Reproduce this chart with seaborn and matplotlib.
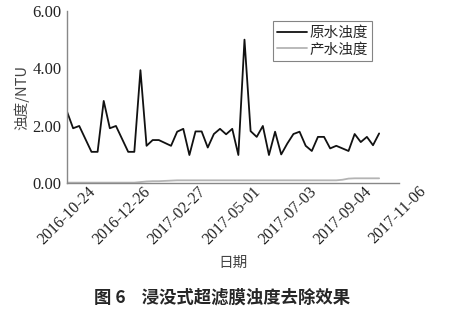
import numpy as np
import pandas as pd
import matplotlib
matplotlib.use("Agg")
import matplotlib.pyplot as plt
import seaborn as sns

# ---- data ----
start_date = "2016-10-24"
raw_turbidity = [2.50, 1.92, 2.00, 1.55, 1.10, 1.10, 2.87, 1.92, 2.00, 1.55,
                 1.10, 1.10, 3.94, 1.31, 1.51, 1.51, 1.41, 1.31, 1.80, 1.90,
                 0.99, 1.81, 1.81, 1.25, 1.72, 1.90, 1.71, 1.90, 0.99, 5.00,
                 1.82, 1.62, 2.00, 0.99, 1.80, 1.01, 1.39, 1.72, 1.80, 1.31,
                 1.13, 1.62, 1.62, 1.22, 1.31, 1.22, 1.13, 1.72, 1.44, 1.62,
                 1.33, 1.74]
product_turbidity = [0.03, 0.03, 0.03, 0.03, 0.03, 0.03, 0.03, 0.03, 0.03, 0.03,
                     0.03, 0.03, 0.05, 0.07, 0.08, 0.08, 0.09, 0.10, 0.11, 0.11,
                     0.11, 0.11, 0.11, 0.11, 0.11, 0.11, 0.11, 0.11, 0.11, 0.11,
                     0.11, 0.11, 0.11, 0.11, 0.11, 0.11, 0.11, 0.11, 0.11, 0.11,
                     0.11, 0.11, 0.11, 0.11, 0.11, 0.13, 0.17, 0.18, 0.18, 0.18,
                     0.18, 0.18]
series_names = ["原水浊度", "产水浊度"]
x_tick_labels = ["2016-10-24", "2016-12-26", "2017-02-27", "2017-05-01",
                 "2017-07-03", "2017-09-04", "2017-11-06"]
y_ticks = [0, 2, 4, 6]

dates = pd.date_range(start_date, periods=len(raw_turbidity), freq="7D")
df = pd.DataFrame({
    "date": np.concatenate([dates, dates]),
    "value": raw_turbidity + product_turbidity,
    "series": [series_names[0]] * len(dates) + [series_names[1]] * len(dates),
})

sns.set_theme(style="white")
plt.rcParams["font.family"] = ["Liberation Serif", "Noto Sans CJK SC", "DejaVu Sans"]
SERIF = ["Liberation Serif"]
CJK = ["Noto Sans CJK SC"]

fig = plt.figure(figsize=(4.57, 3.11), dpi=100)
ax = fig.add_axes([0.1466, 0.41, 0.727, 0.555])

sns.lineplot(data=df, x="date", y="value", hue="series",
             palette=["#111111", "#b4b4b4"], linewidth=1.3, ax=ax, legend=True)

tick_dates = pd.to_datetime(x_tick_labels)
ax.set_xlim(tick_dates[0], tick_dates[-1] + pd.Timedelta(days=2))
ax.set_xticks(tick_dates)
ax.set_xticklabels(x_tick_labels, rotation=45, ha="center", fontsize=11.5,
                   family=SERIF, color="#222222")
ax.set_ylim(0, 6)
ax.set_yticks(y_ticks)
ax.set_yticklabels([f"{v:.2f}" for v in y_ticks], fontsize=12, family=SERIF,
                   color="#222222")

for side in ["top", "right"]:
    ax.spines[side].set_visible(False)
for side in ["left", "bottom"]:
    ax.spines[side].set_color("#888888")
    ax.spines[side].set_linewidth(1.0)
ax.tick_params(axis="x", direction="in", length=4, color="#666666", width=0.8, pad=0)
ax.tick_params(axis="y", direction="out", length=3, color="#666666", width=0.8, pad=1)

ax.set_xlabel("日期", fontsize=10.5, family=CJK, labelpad=6, color="#444444")
ax.set_ylabel("浊度/NTU", fontsize=10.5, family=["Noto Sans CJK SC", "Liberation Serif"],
              labelpad=2, color="#444444")

leg = ax.legend(loc="upper left", bbox_to_anchor=(0.62, 0.94), frameon=True,
                fancybox=False, edgecolor="#666666",
                prop={"family": CJK, "size": 10.5},
                handlelength=2.0, handletextpad=0.2, borderpad=0.3,
                labelspacing=0.2, borderaxespad=0)
leg.get_frame().set_linewidth(0.8)

fig.text(0.487, 0.045, "图 6    浸没式超滤膜浊度去除效果", ha="center", va="center",
         fontsize=12.5, fontweight="bold", family=CJK)

fig.savefig("out.png", dpi=100)
